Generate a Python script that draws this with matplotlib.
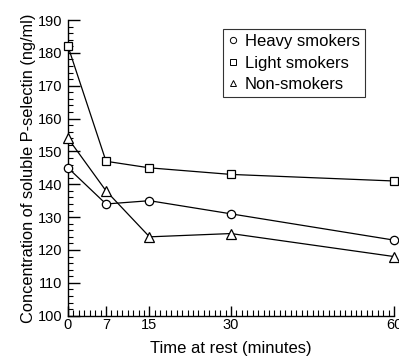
import matplotlib
matplotlib.use("Agg")
import matplotlib.pyplot as plt
from matplotlib.lines import Line2D
from matplotlib.ticker import MultipleLocator

plt.rcParams['font.family'] = ['Liberation Sans', 'DejaVu Sans']

times = [0, 7, 15, 30, 60]
heavy = [145, 134, 135, 131, 123]
light = [182, 147, 145, 143, 141]
non = [154, 138, 124, 125, 118]
labels = ["Heavy smokers", "Light smokers", "Non-smokers"]
yticks = [100, 110, 120, 130, 140, 150, 160, 170, 180, 190]

fig = plt.figure(figsize=(3.99, 3.58), dpi=100)
ax = fig.add_axes([0.1704, 0.1182, 0.8171, 0.8259])

kw = dict(color='black', lw=0.9, markerfacecolor='white', markeredgecolor='black',
          markeredgewidth=0.9, clip_on=False, zorder=3)
ax.plot(times, heavy, marker='o', markersize=6, **kw)
ax.plot(times, light, marker='s', markersize=5.5, **kw)
ax.plot(times, non, marker='^', markersize=6.5, **kw)

ax.set_xlim(0, 60)
ax.set_ylim(100, 190)
ax.set_xticks(times)
ax.set_yticks(yticks)
ax.xaxis.set_minor_locator(MultipleLocator(1))
ax.yaxis.set_minor_locator(MultipleLocator(2))
for s in ['top', 'right']:
    ax.spines[s].set_visible(False)
for s in ['left', 'bottom']:
    ax.spines[s].set_linewidth(1.0)
ax.tick_params(axis='y', which='major', direction='in', length=8.5, width=1.0, labelsize=10.5, pad=4)
ax.tick_params(axis='y', which='minor', direction='in', length=3.6, width=0.8)
ax.tick_params(axis='x', which='major', direction='in', length=7.5, width=1.0, labelsize=10.5, pad=2)
ax.tick_params(axis='x', which='minor', direction='in', length=4, width=0.8)

ax.set_xlabel("Time at rest (minutes)", fontsize=12, labelpad=6)
ax.set_ylabel("Concentration of soluble P-selectin (ng/ml)", fontsize=11.8, labelpad=1)

handles = [Line2D([], [], ls='none', marker=m, markersize=ms, markerfacecolor='white',
                  markeredgecolor='black', markeredgewidth=0.7)
           for m, ms in [('o', 4.5), ('s', 4), ('^', 4.5)]]
leg = ax.legend(handles, labels, loc='upper left', bbox_to_anchor=(0.474, 0.97),
                fontsize=12, frameon=True, fancybox=False, handlelength=0.6,
                handletextpad=0.45, borderpad=0.3, labelspacing=0.4, borderaxespad=0)
leg.get_frame().set_edgecolor('black')
leg.get_frame().set_linewidth(0.8)

fig.savefig("out.png", dpi=100)
